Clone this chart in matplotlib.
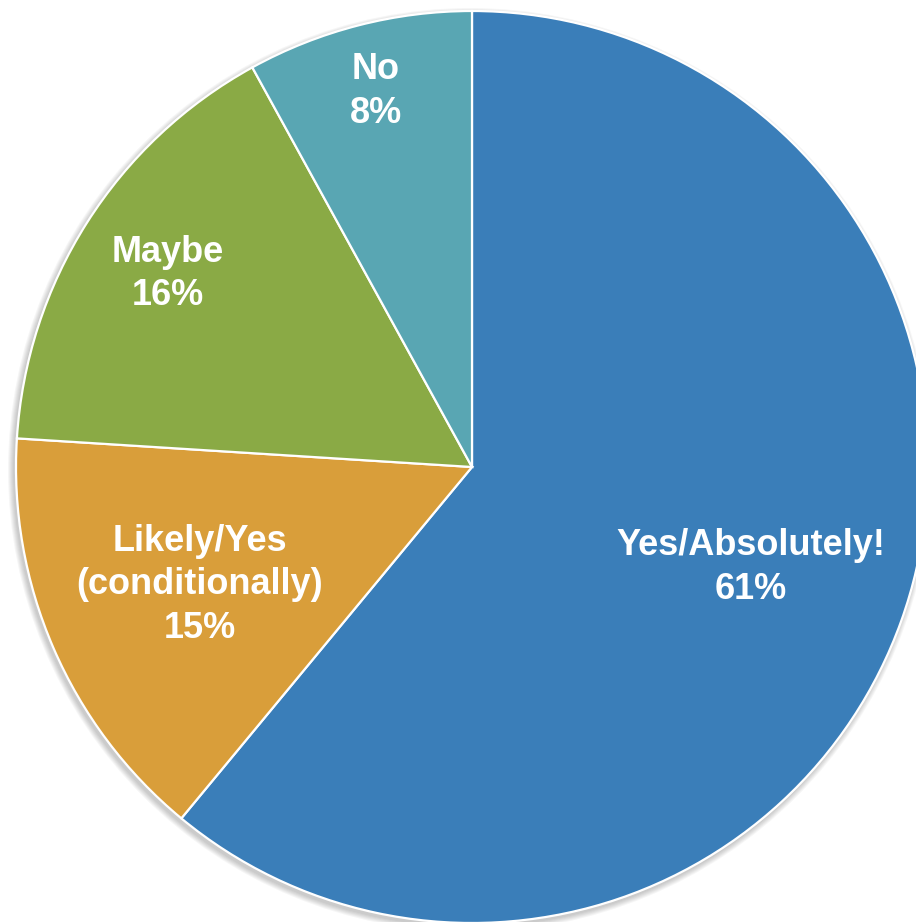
import numpy as np
import matplotlib.pyplot as plt

# Survey answers, clockwise from the top
labels = ['Yes/Absolutely!', 'Likely/Yes\n(conditionally)', 'Maybe', 'No']
shares = [61, 15, 16, 8]
colors = ['#3A7EB9', '#D99E3A', '#8AAA45', '#59A6B3']

# where each label sits, as a fraction of the radius
label_dist = [0.65, 0.65, 0.79, 0.85]

W, H = 916, 922
fig = plt.figure(figsize=(W / 100, H / 100), dpi=100)
ax = fig.add_axes([0, 0, 1, 1])
ax.set_xlim(0, W)
ax.set_ylim(0, H)
ax.set_aspect('equal')
ax.axis('off')

cx, cy, R = 472, H - 467, 456

# soft drop shadow under the pie
for k in range(6):
    shadow = plt.Circle((cx - 2, cy - 3), R + 1 + k, color='black',
                        alpha=0.035, lw=0, zorder=0)
    ax.add_patch(shadow)

wedges, _ = ax.pie(shares, colors=colors, startangle=90, counterclock=False,
                   center=(cx, cy), radius=R, frame=True,
                   wedgeprops=dict(edgecolor='white', linewidth=1.6))
ax.set_xlim(0, W)
ax.set_ylim(0, H)
ax.axis('off')

for w, lab, share, d in zip(wedges, labels, shares, label_dist):
    mid = np.deg2rad((w.theta1 + w.theta2) / 2)
    x = cx + d * R * np.cos(mid)
    y = cy + d * R * np.sin(mid)
    ax.text(x, y, f'{lab}\n{share}%', ha='center', va='center',
            color='white', fontsize=26, fontweight='bold',
            family='Liberation Sans', linespacing=1.31)

fig.savefig('out.png', dpi=100)
